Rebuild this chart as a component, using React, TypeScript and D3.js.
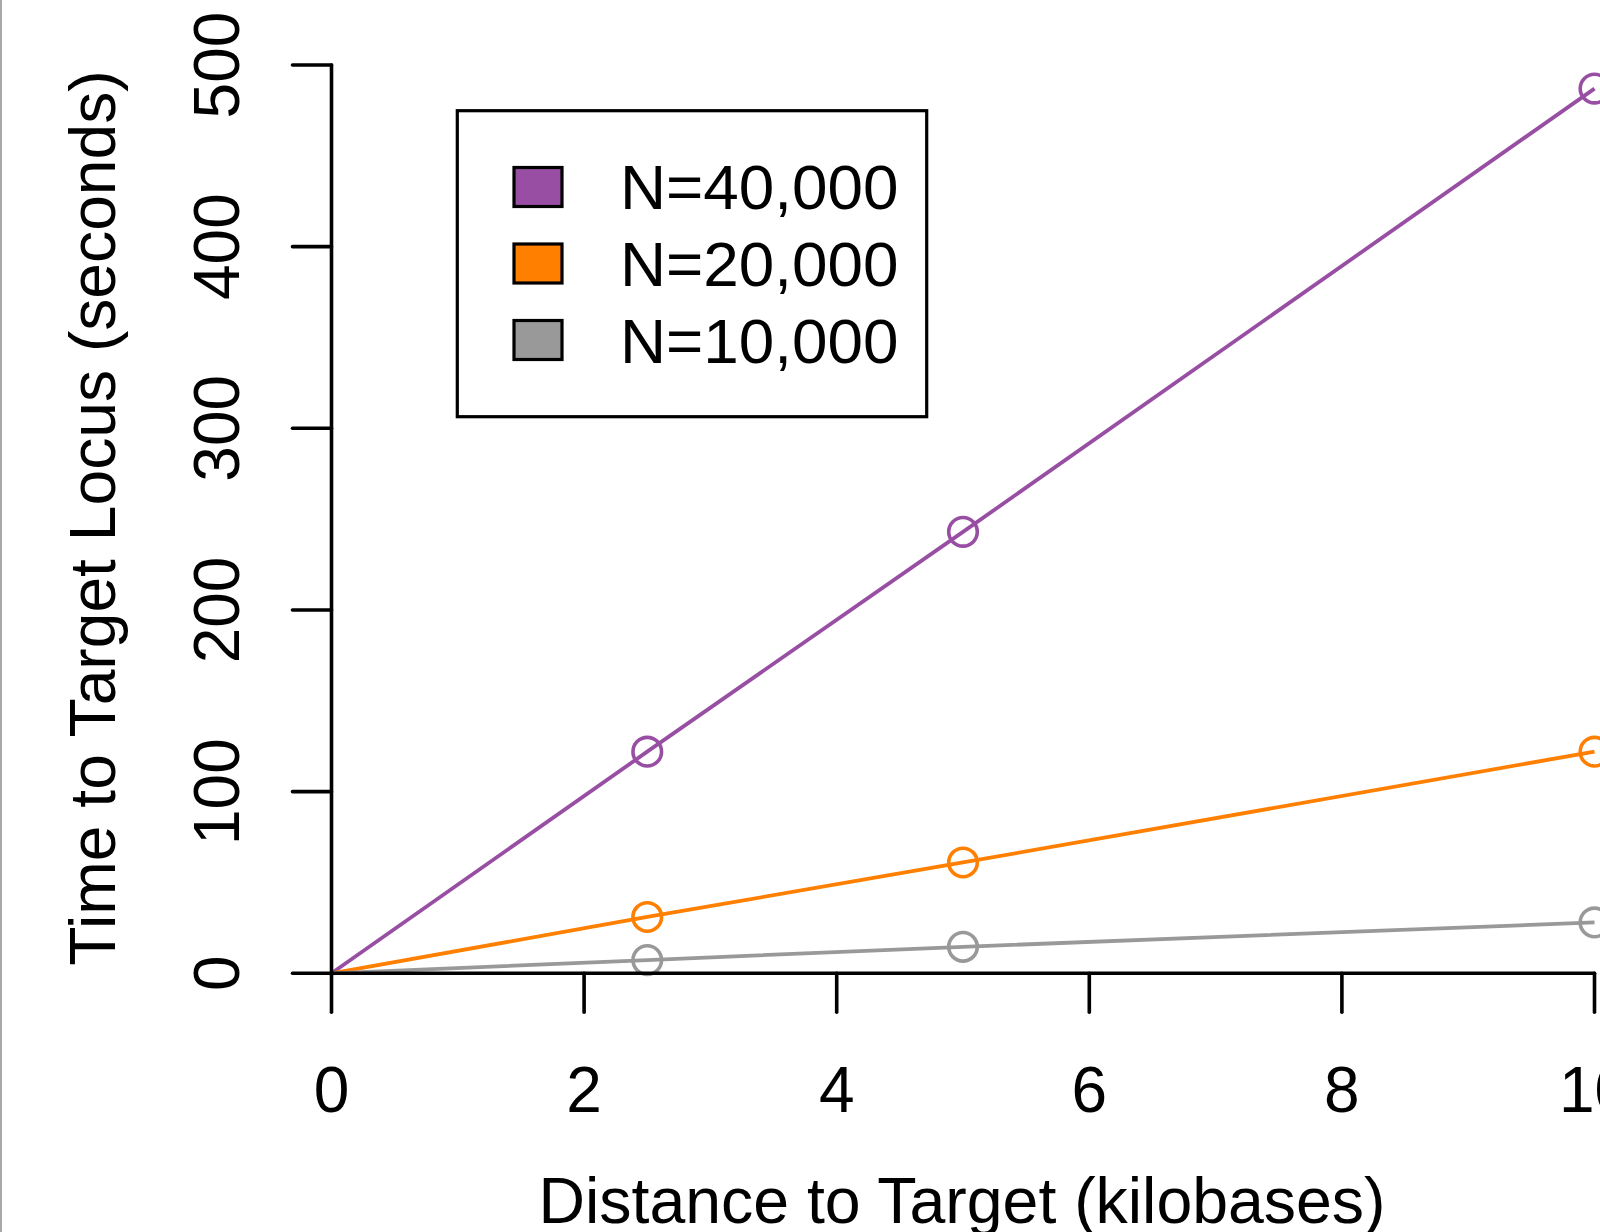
import React, { useEffect } from "react";
import { scaleLinear, line } from "d3";

const distances = [0, 2.5, 5, 10];
const seriesNames = ["N=40,000", "N=20,000", "N=10,000"];
const n40000 = [0, 122, 243, 487];
const n20000 = [0, 31, 61, 122];
const n10000 = [0, 7.3, 14.6, 28];
const seriesColors = ["#984EA3", "#FF7F00", "#999999"];
const xTicks = [0, 2, 4, 6, 8, 10];
const yTicks = [0, 100, 200, 300, 400, 500];

const width = 1600;
const height = 1232;
const font = "'Liberation Sans', Arial, Helvetica, sans-serif";

function App() {
  useEffect(() => {
    document.body.style.margin = "0";
  }, []);

  const xScale = scaleLinear().domain([0, 10]).range([331.5, 1594.5]);
  const yScale = scaleLinear().domain([0, 500]).range([973.3, 65]);
  const series = [n40000, n20000, n10000];

  const myLine = line<number>()
    .x((v, i) => xScale(distances[i]))
    .y((v) => yScale(v));

  return (
    <svg width={width} height={height} style={{ display: "block" }}>
      <rect x={0} y={0} width={width} height={height} fill="#fff" />
      <rect x={0} y={0} width={2} height={height} fill="#a8a8a8" />

      {/* data */}
      {series.map((vals, s) => (
        <g key={s}>
          <path
            d={myLine(vals) || ""}
            fill="none"
            stroke={seriesColors[s]}
            strokeWidth={3.8}
          />
          {vals.map((v, i) =>
            i === 0 ? null : (
              <circle
                key={i}
                cx={xScale(distances[i])}
                cy={yScale(v)}
                r={14.3}
                fill="none"
                stroke={seriesColors[s]}
                strokeWidth={3.6}
              />
            )
          )}
        </g>
      ))}

      {/* y axis */}
      <g stroke="#000" strokeWidth={3.6} strokeLinecap="round">
        <line x1={xScale(0)} x2={xScale(0)} y1={yScale(0)} y2={yScale(500)} />
        {yTicks.map((t) => (
          <line key={t} x1={xScale(0) - 39} x2={xScale(0)} y1={yScale(t)} y2={yScale(t)} />
        ))}
      </g>
      {yTicks.map((t) => (
        <text
          key={t}
          transform={`translate(239,${yScale(t)}) rotate(-90)`}
          textAnchor="middle"
          fontFamily={font}
          fontSize={64}
          fill="#000"
        >
          {t}
        </text>
      ))}

      {/* x axis */}
      <g stroke="#000" strokeWidth={3.6} strokeLinecap="round">
        <line x1={xScale(0)} x2={xScale(10)} y1={yScale(0)} y2={yScale(0)} />
        {xTicks.map((t) => (
          <line key={t} x1={xScale(t)} x2={xScale(t)} y1={yScale(0)} y2={yScale(0) + 39} />
        ))}
      </g>
      {xTicks.map((t) => (
        <text
          key={t}
          x={xScale(t)}
          y={1112}
          textAnchor="middle"
          fontFamily={font}
          fontSize={64}
          fill="#000"
        >
          {t}
        </text>
      ))}

      {/* axis titles */}
      <text
        x={962}
        y={1223}
        textAnchor="middle"
        fontFamily={font}
        fontSize={64.4}
        fill="#000"
      >
        Distance to Target (kilobases)
      </text>
      <text
        transform={`translate(115,518) rotate(-90)`}
        textAnchor="middle"
        fontFamily={font}
        fontSize={64.2}
        fill="#000"
      >
        Time to Target Locus (seconds)
      </text>

      {/* legend */}
      <rect
        x={457.3}
        y={110.7}
        width={469.4}
        height={306}
        fill="#fff"
        stroke="#000"
        strokeWidth={3.2}
      />
      {seriesNames.map((name, i) => (
        <g key={name}>
          <rect
            x={514}
            y={167.5 + i * 76.5}
            width={48}
            height={39}
            fill={seriesColors[i]}
            stroke="#000"
            strokeWidth={3.2}
          />
          <text
            x={620}
            y={209.3 + i * 76.6}
            fontFamily={font}
            fontSize={63.8}
            fill="#000"
          >
            {name}
          </text>
        </g>
      ))}
    </svg>
  );
}

export default App;
